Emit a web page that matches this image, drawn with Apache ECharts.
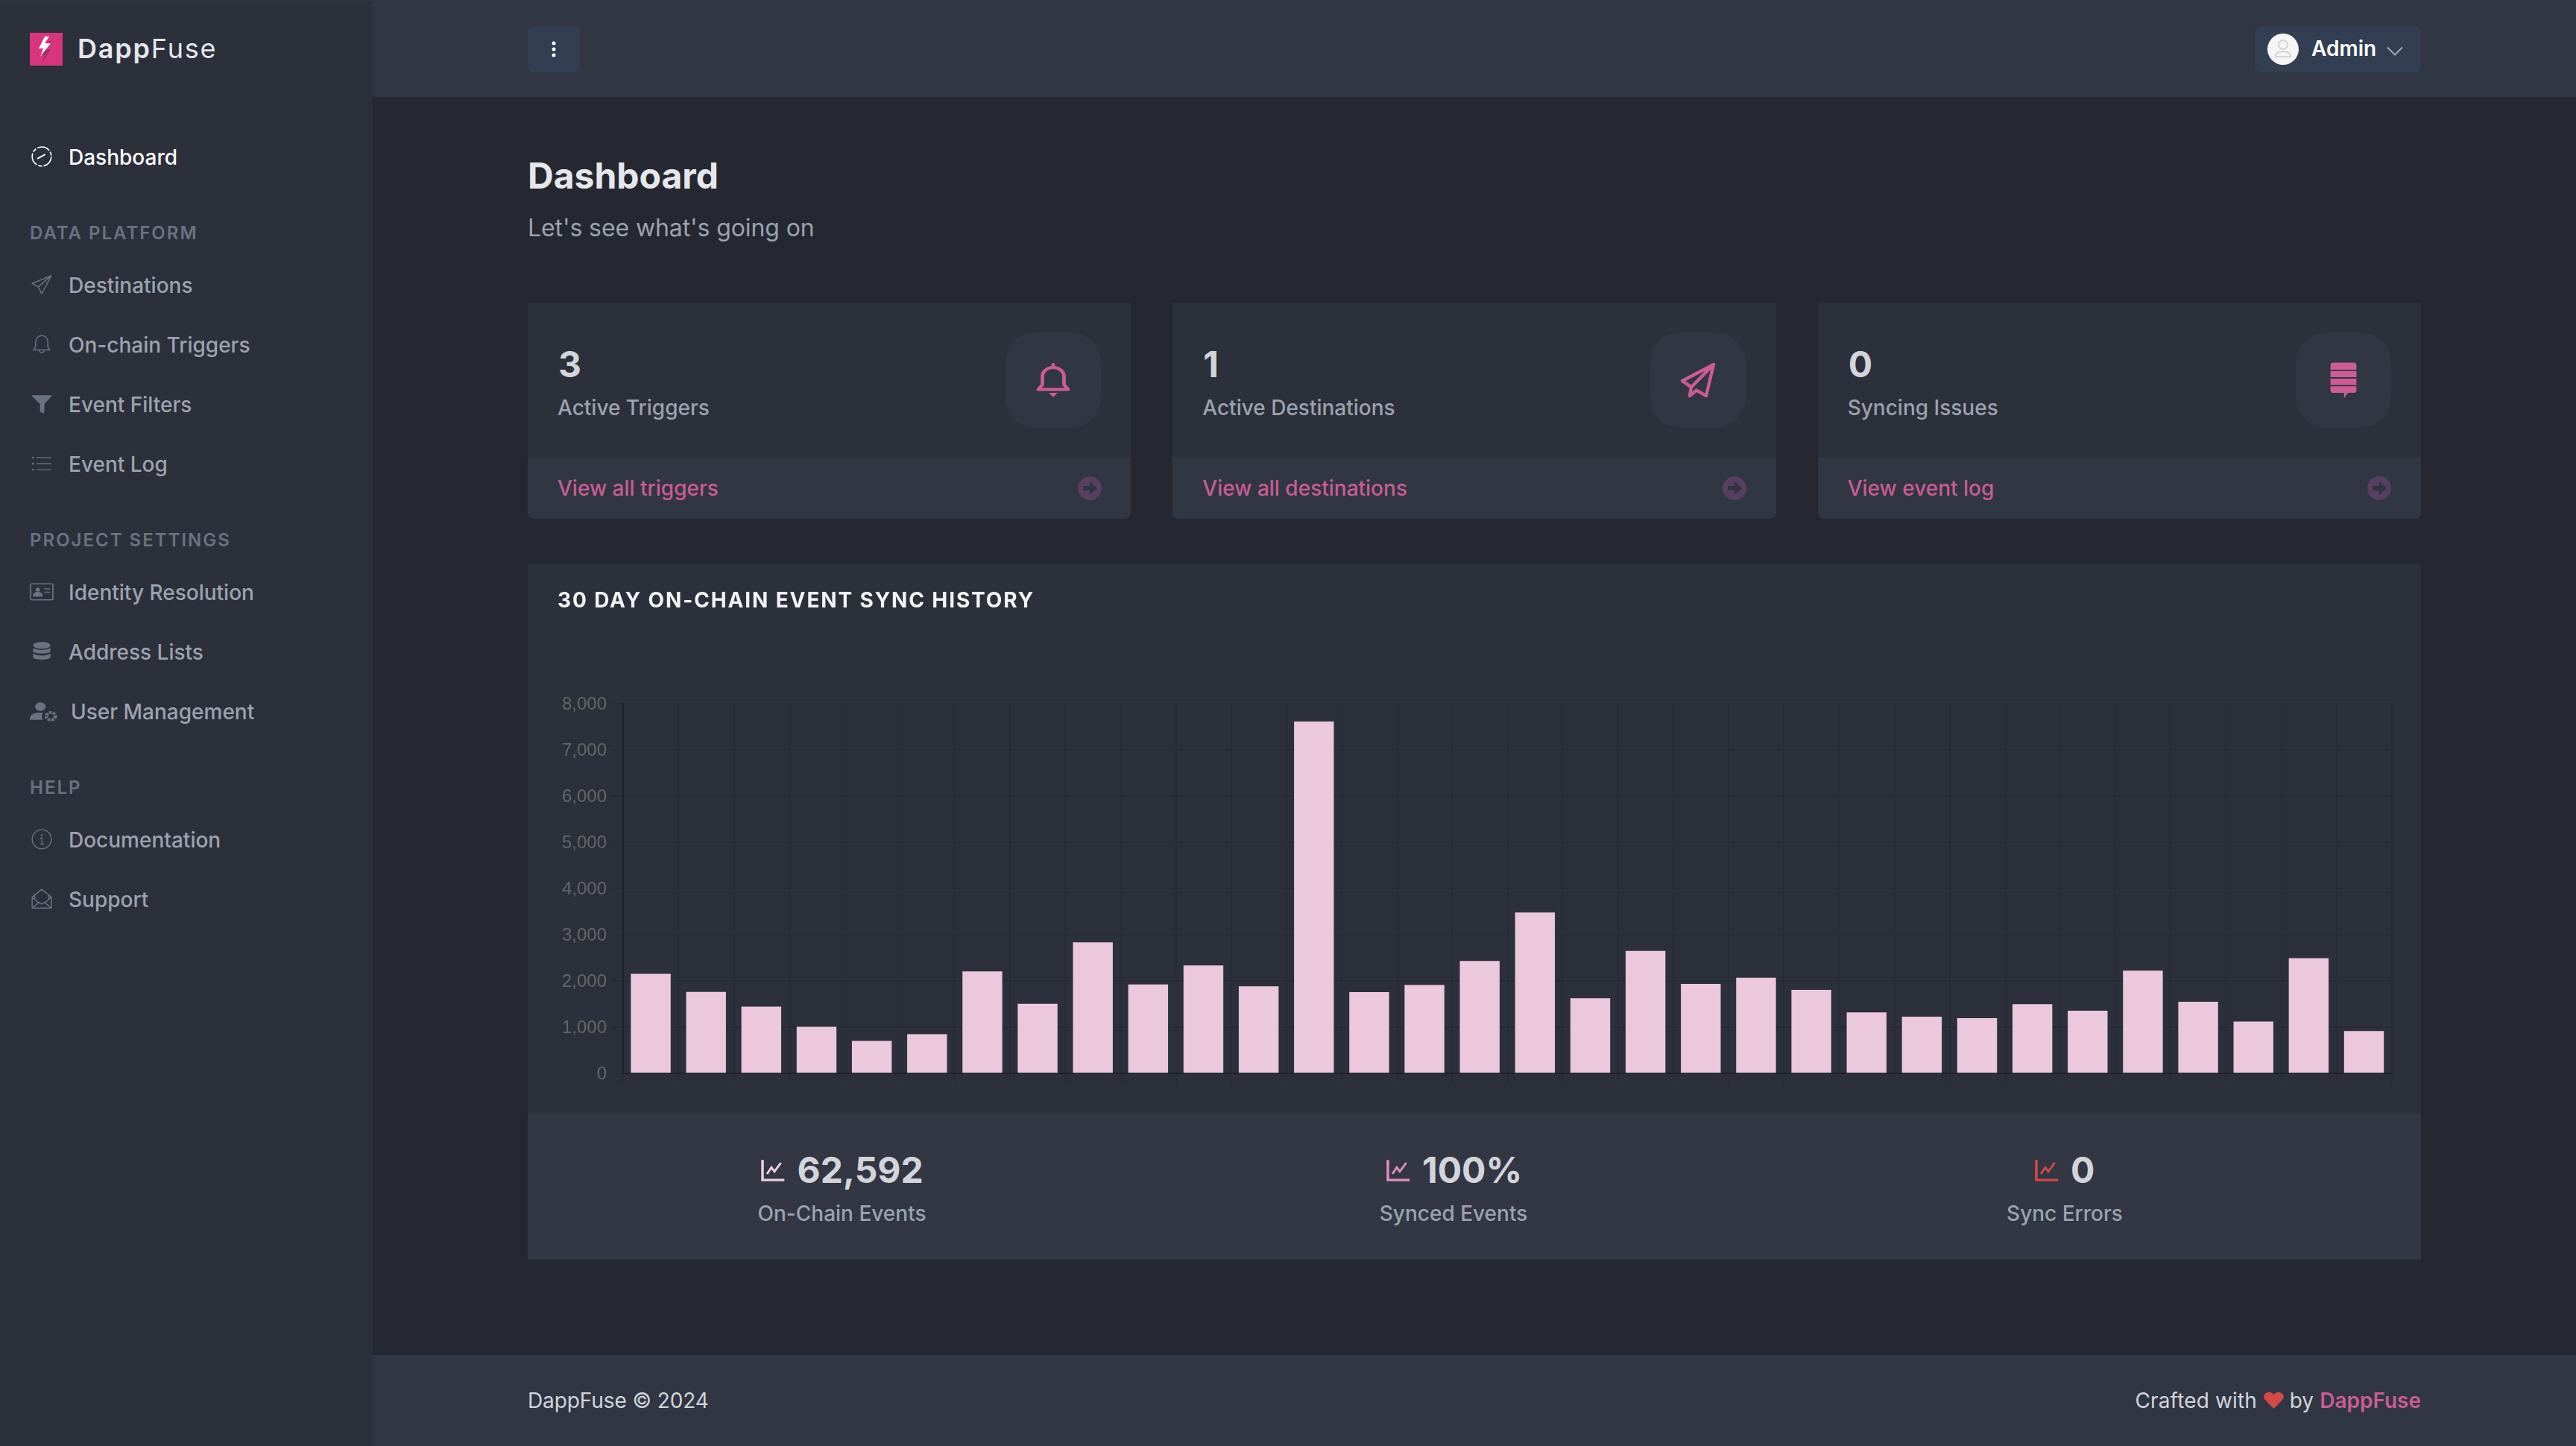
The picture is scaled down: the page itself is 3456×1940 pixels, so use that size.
<!DOCTYPE html>
<html lang="en"><head><meta charset="utf-8"><title>DappFuse Dashboard</title>
<script src="https://cdn.jsdelivr.net/npm/echarts@6/dist/echarts.min.js"></script>
<style>
html,body{margin:0;padding:0;width:3456px;height:1940px;overflow:hidden;background:#252830;font-family:Inter,"Noto Sans",sans-serif;}
.box{position:absolute}
.t{position:absolute;white-space:nowrap;transform:translateY(-50%);line-height:1.2}
svg{position:absolute;display:block;overflow:visible}
</style></head><body>
<div id="root"></div>
<div id="chart" class="box" style="left:708px;top:756px;width:2540px;height:738px"></div>
<script>
/* chart data */
const categories=["1","2","3","4","5","6","7","8","9","10","11","12","13","14","15","16","17","18","19","20","21","22","23","24","25","26","27","28","29","30","31","32"];
const syncedEvents=[2144,1752,1435,997,692,836,2196,1493,2824,1914,2323,1873,7608,1746,1902,2421,3470,1614,2640,1925,2058,1798,1308,1216,1182,1487,1343,2213,1539,1112,2484,905];
const tickValues=[0,1000,2000,3000,4000,5000,6000,7000,8000];
const tickLabels=["0","1,000","2,000","3,000","4,000","5,000","6,000","7,000","8,000"];

/* page text */
const navItems=[
 ["Dashboard",211.5,"gauge","#fff",92],
 ["Destinations",383.5,"send","#9ca3af",92],
 ["On-chain Triggers",463.5,"bell","#9ca3af",92],
 ["Event Filters",543.5,"funnel","#9ca3af",92],
 ["Event Log",623.5,"list","#9ca3af",92],
 ["Identity Resolution",795.5,"idcard","#9ca3af",92],
 ["Address Lists",875.5,"db","#9ca3af",92],
 ["User Management",955.5,"usergear","#9ca3af",95],
 ["Documentation",1127.5,"info","#9ca3af",92],
 ["Support",1207.5,"mail","#9ca3af",92]];
const navHeads=[["DATA PLATFORM",312.5],["PROJECT SETTINGS",724.5],["HELP",1056.5]];
const cards=[
 {v:"3",l:"Active Triggers",a:"View all triggers",x:708,ic:"bellBig",iw:58},
 {v:"1",l:"Active Destinations",a:"View all destinations",x:1573.33,ic:"planeBig",iw:48},
 {v:"0",l:"Syncing Issues",a:"View event log",x:2438.67,ic:"stack",iw:38}];
const stats=[
 {v:"62,592",l:"On-Chain Events",c:1129.5,vx:1069.5,ix:1021,col:"#f0cfe2"},
 {v:"100%",l:"Synced Events",c:1950,vx:1908,ix:1860,col:"#e08fbf"},
 {v:"0",l:"Sync Errors",c:2770,vx:2778,ix:2730,col:"#d44a46"}];

const icons={
 gauge:`<circle cx="12" cy="12" r="11" fill="none" stroke="currentColor" stroke-width="1.4" stroke-dasharray="15 1.8 4.500 1.800"/><path d="M7 14.5 16 9.500" stroke="currentColor" stroke-width="1.6" fill="none"/>`,
 send:`<path d="M23 1.5 1 10.500l7 4 4 8zM23 1.500 8 14.500" fill="none" stroke="currentColor" stroke-width="1.3" stroke-linejoin="round"/>`,
 bell:`<path d="M12 2a7 7 0 0 0-7 7v6l-2.500 3.500h19L19 15V9a7 7 0 0 0-7-7zM9 18.500a3 3 0 0 0 6 0" fill="none" stroke="currentColor" stroke-width="1.3" stroke-linejoin="round"/>`,
 funnel:`<path d="M1 2h22c.500 0 .700.600.300 1L15 12v9l-1 2-3.500-2-.500-1v-8L.700 3C.300 2.600.500 2 1 2z" fill="currentColor"/>`,
 list:`<path d="M6 5h17M6 12h17M6 19h17" stroke="currentColor" stroke-width="1.200"/><path d="M1 4h2v2H1zM1 11h2v2H1zM1 18h2v2H1z" fill="currentColor"/>`,
 idcard:`<rect x=".7" y="2.700" width="22.600" height="18.600" rx="1.500" fill="none" stroke="currentColor" stroke-width="1.300"/><circle cx="8" cy="9.500" r="2.300" fill="currentColor"/><path d="M3.700 17c0-3 2-4.500 4.300-4.500s4.300 1.500 4.300 4.500zM14.500 8.500h6M14.500 12.500h6" fill="currentColor" stroke="currentColor" stroke-width="1.300"/>`,
 db:`<ellipse cx="12" cy="5" rx="10" ry="4" fill="currentColor"/><path d="M2 7.500c2 3.600 18 3.600 20 0v4c0 3.800-20 3.800-20 0zM2 14c2 3.600 18 3.600 20 0v4.500c0 4-20 4-20 0z" fill="currentColor"/>`,
 usergear:`<circle cx="10" cy="7" r="5" fill="currentColor"/><path d="M0 22c0-5 3-8 8-8h5c-2 2-2 6-.500 8z" fill="currentColor"/><circle cx="20" cy="18" r="4.200" fill="none" stroke="currentColor" stroke-width="3.400" stroke-dasharray="2.500 1"/>`,
 info:`<circle cx="12" cy="12" r="11" fill="none" stroke="currentColor" stroke-width="1.200"/><path d="M10 10.500h2.300v7M10 17.500h4.500" fill="none" stroke="currentColor" stroke-width="1.100"/><circle cx="12" cy="7" r="1" fill="currentColor"/>`,
 mail:`<path d="M1 10 12 1l11 9v12.500H1zM1 10l8 7M23 10l-8 7M1 22.500 9 16l3 2 3-2 8 6.500M4 12.500V8M20 12.500V8" fill="none" stroke="currentColor" stroke-width="1.200" stroke-linejoin="round"/>`,
 bellBig:`<path d="M12 3.500a6 6 0 0 0-6 6v5.500l-2.300 3.300h16.600L18 15V9.500a6 6 0 0 0-6-6zM12 1.500v2" fill="none" stroke="currentColor" stroke-width="2" stroke-linejoin="round" stroke-linecap="round"/><path d="M9.500 20.500h5L12 23.500z" fill="currentColor"/>`,
 planeBig:`<path d="M22.500 1.500 1.500 12.500l6 4.200L6.500 22.500l4.500-3.700 6.500 3.700zM22.500 1.500 7.500 16.700" fill="none" stroke="currentColor" stroke-width="2.200" stroke-linejoin="round"/>`,
 stack:`<path d="M1 2c0-1 .700-1.700 1.700-1.700h18.600C22.300.300 23 1 23 2v3H1zM1 5.900h22V10H1zM1 11h22v4.200H1zM1 16.100h22v2.700c0 1-.700 1.700-1.700 1.700H16L12.500 24v-3.500H2.700c-1 0-1.700-.700-1.700-1.700z" fill="currentColor"/>`,
 trend:`<path d="M1.500 1v21.500h22" fill="none" stroke="currentColor" stroke-width="2.600"/><path d="M6 16l4.500-7 3 4.500L20 4" fill="none" stroke="currentColor" stroke-width="2.200"/>`,
 heart:`<path d="M12 23 2 11c-3-5 1-10 6-9 2 .400 3.300 1.700 4 3 .700-1.300 2-2.600 4-3 5-1 9 4 6 9z" fill="currentColor"/>`
};

function rect(x,y,w,h,bg,extra){return `<div class="box" style="left:${x}px;top:${y}px;width:${w}px;height:${h}px;background:${bg};${extra||''}"></div>`;}
function text(s,x,cy,size,weight,color,extra){return `<div class="t" style="left:${x}px;top:${cy}px;font-size:${size}px;font-weight:${weight};color:${color};${extra||''}">${s}</div>`;}
function textR(s,right,cy,size,weight,color,extra){return `<div class="t" style="right:${3456-right}px;top:${cy}px;font-size:${size}px;font-weight:${weight};color:${color};${extra||''}">${s}</div>`;}
function icon(name,x,y,w,h,color,op){return `<svg viewBox="0 0 24 24" preserveAspectRatio="none" style="left:${x}px;top:${y}px;width:${w}px;height:${h}px;color:${color};opacity:${op==null?1:op}">${icons[name]}</svg>`;}

let html='';
html+=rect(0,0,500,1940,'#2c303b');
html+=rect(0,0,500,2,'#313643');
html+=rect(500,0,2956,130,'#313643');
html+=rect(500,1818,2956,122,'#313643');
/* logo */
html+=rect(40,44,44,44,'#d9357f');
html+=`<svg viewBox="0 0 44 44" style="left:40px;top:44px;width:44px;height:44px"><path d="M20 10 12 26l5 0-4 11 12-19-7 1 9-14z" fill="#a82b68" transform="translate(3 4)"/><path d="M20 5 12 21h6l-4 11 14-18h-8l6-9z" fill="#fff"/></svg>`;
html+=`<div class="t" style="left:104px;top:66px;font-size:36px;letter-spacing:1.800px;color:#e5e7eb"><span style="font-weight:600">Dapp</span><span style="font-weight:400">Fuse</span></div>`;
/* nav */
navHeads.forEach(n=>{html+=text(n[0],40,n[1],24,600,'#6b7280','letter-spacing:2px');});
navItems.forEach(n=>{const ic=n[3]==='#fff'?'#fff':'#6b7280';
 const w=n[2]==='usergear'?34:(n[2]==='idcard'?32:28);
 html+=icon(n[2],n[2]==='usergear'||n[2]==='idcard'?40:42,n[1]-15.5,w,28,ic);
 html+=text(n[0],n[4],n[1],28,500,n[3]);});
/* topbar */
html+=rect(708,35,70,62,'#323e51','border-radius:8px');
html+=`<svg viewBox="0 0 8 24" style="left:739px;top:54px;width:8px;height:24px"><circle cx="4" cy="4" r="2.500" fill="#fff"/><circle cx="4" cy="12" r="2.500" fill="#fff"/><circle cx="4" cy="20" r="2.500" fill="#fff"/></svg>`;
html+=rect(3024.5,35,223.5,62,'#323e51','border-radius:8px');
html+=`<svg viewBox="0 0 42 42" style="left:3042px;top:45px;width:42px;height:42px"><circle cx="21" cy="21" r="21" fill="#f5f5f5"/><circle cx="21" cy="15" r="6" fill="none" stroke="#d4d4d4" stroke-width="2"/><path d="M11 31c0-5 4-7 10-7s10 2 10 7z" fill="none" stroke="#d4d4d4" stroke-width="2"/></svg>`;
html+=text('Admin',3101,66,28,600,'#fff');
html+=`<svg viewBox="0 0 22 13" style="left:3202px;top:62px;width:22px;height:13px"><path d="M1 1.500 11 11.500 21 1.500" fill="none" stroke="#9ca3af" stroke-width="2.200"/></svg>`;
/* title */
html+=text('Dashboard',708,236,48,700,'#e5e7eb');
html+=text("Let's see what's going on",708,306,32,400,'#9ca3af','letter-spacing:-.1px');
/* cards */
cards.forEach(c=>{const w=809.33;
 html+=rect(c.x,406,w,290,'#2c303b','border-radius:0 0 8px 8px');
 html+=rect(c.x,614,w,82,'#313643','border-radius:0 0 8px 8px');
 html+=text(c.v,c.x+41,489,48,700,'#d1d5db');
 html+=text(c.l,c.x+40,547.5,28,500,'#9ca3af');
 html+=rect(c.x+641,446,128,128,'#313643','border-radius:40px');
 const ix=c.x+705,iy=510;
 html+=icon(c.ic,ix-c.iw/2,iy-24,c.iw,48,'#cb5c95');
 html+=text(c.a,c.x+40,656,28,500,'#cb5c95');
 html+=`<svg viewBox="0 0 32 32" style="left:${c.x+737.5}px;top:639px;width:32px;height:32px"><circle cx="16" cy="16" r="16" fill="#573f5f"/><path d="M7 13h9V7l10 9-10 9v-6H7z" fill="#2f3442"/></svg>`;
});
/* chart card */
html+=rect(708,756,2540,738,'#2c303b');
html+=rect(708,1494,2540,196,'#323743');
stats.forEach(s=>{
 html+=icon('trend',s.ix,1555,32,30,s.col);
 html+=text(s.v,s.vx,1570,48,700,'#d1d5db');
 html+=`<div class="t" style="left:${s.c}px;top:1628.5px;font-size:28px;font-weight:500;color:#9ca3af;transform:translate(-50%,-50%)">${s.l}</div>`;
});
/* footer */
html+=text('DappFuse © 2024',708,1880,28,400,'#d1d5db','letter-spacing:-.1px');
html+=textR('DappFuse',3248,1880,28,600,'#cb5c95');
html+=icon('heart',3036,1866,29,25,'#d44a46');
html+=textR('by',3104,1880,28,400,'#d1d5db');
html+=textR('Crafted with',3028,1880,28,400,'#d1d5db','letter-spacing:.15px');
document.getElementById('root').innerHTML=html;

const cardTitle=document.createElement('div');
cardTitle.className='t';
cardTitle.style.cssText='left:748px;top:805.5px;font-size:28px;font-weight:700;letter-spacing:1.87px;color:#f3f4f6;z-index:5';
cardTitle.textContent='30 DAY ON-CHAIN EVENT SYNC HISTORY';
document.body.appendChild(cardTitle);

const chart=echarts.init(document.getElementById('chart'),null,{renderer:'canvas'});
const gridV='rgba(0,0,0,0.07)',gridH='rgba(0,0,0,0.09)',zeroLine='rgba(0,0,0,0.22)';
chart.setOption({
 animation:false,
 backgroundColor:'transparent',
 grid:{left:128,top:187.6,width:2372.6,height:495.7,containLabel:false},
 tooltip:{show:false},
 xAxis:{type:'category',data:categories,boundaryGap:true,
  axisLine:{show:true,onZero:false,lineStyle:{color:zeroLine,width:2}},
  axisTick:{show:true,length:16,alignWithLabel:false,interval:0,lineStyle:{color:gridV,width:2}},
  axisLabel:{show:false},
  splitLine:{show:true,interval:0,lineStyle:{color:gridV,width:2}}},
 yAxis:{type:'value',min:tickValues[0],max:tickValues[tickValues.length-1],interval:1000,
  axisLine:{show:true,lineStyle:{color:zeroLine,width:2}},
  axisTick:{show:true,length:16,lineStyle:{color:gridH,width:2}},
  axisLabel:{margin:22,color:'#666',fontSize:24,fontFamily:'"Liberation Sans",Arial,sans-serif',
    formatter:v=>'{a|'+tickLabels[tickValues.indexOf(v)]+'}',
    rich:{a:{color:'#666',fontSize:24,fontFamily:'"Liberation Sans",Arial,sans-serif',padding:[4,0,0,0]}}},
  splitLine:{show:true,lineStyle:{color:gridH,width:2}}},
 series:[{name:'Events',type:'bar',data:syncedEvents,barWidth:53.4,
  itemStyle:{color:'#ecc8dd'},emphasis:{disabled:true}}]
});
</script>
</body></html>
